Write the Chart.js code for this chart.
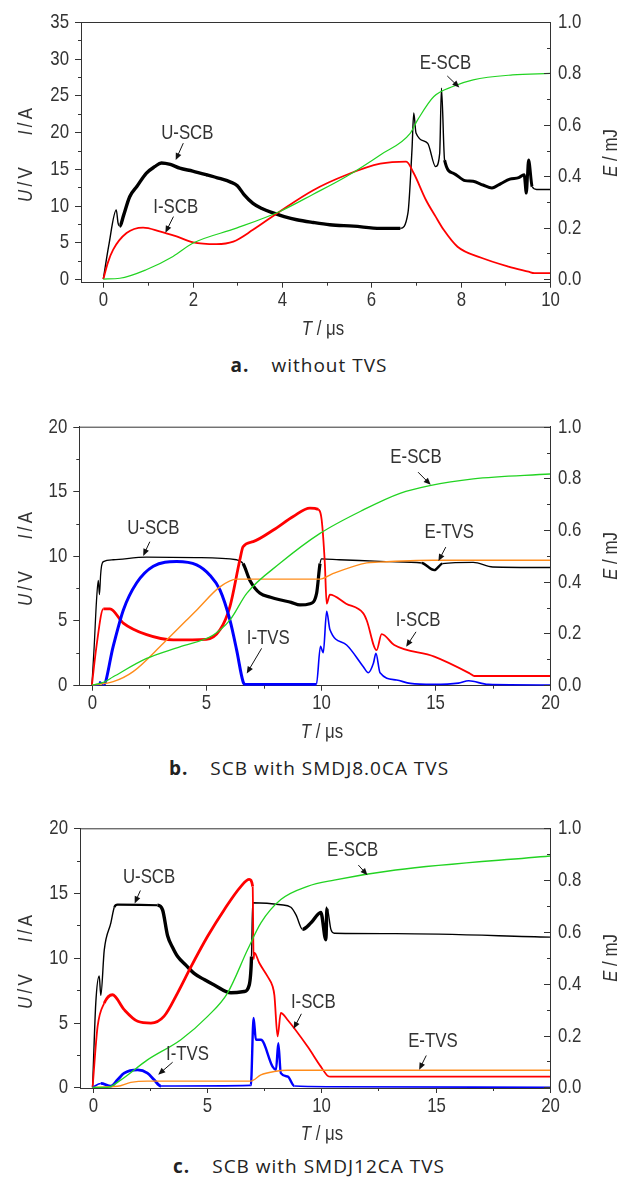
<!DOCTYPE html>
<html>
<head>
<meta charset="utf-8">
<script src="https://cdn.jsdelivr.net/npm/chart.js@4/dist/chart.umd.min.js"></script>
<style>
body{margin:0;background:#fff;width:618px;height:1180px;position:relative;overflow:hidden;color:#333;
  font-family:'Liberation Sans',Arial,sans-serif}
canvas{position:absolute;left:0}
.t{position:absolute;transform:translate(-50%,-50%) scaleX(0.8);white-space:pre;font-size:21px;line-height:1}
.r{transform:translate(-50%,-50%) rotate(-90deg) scaleX(0.8)}
.gap{display:inline-block;width:40px}
.cap{position:absolute;left:0;width:618px;text-align:center;font-family:'Open Sans',sans-serif;font-size:19px;letter-spacing:1px;color:#222;transform:translateY(-50%)}
.cap b{margin-right:22px}
</style>
</head>
<body>
<canvas id="ca" width="618" height="330" style="top:0"></canvas>
<canvas id="cb" width="618" height="330" style="top:400px"></canvas>
<canvas id="cc" width="618" height="330" style="top:800px"></canvas>

<div class="t r" style="left:24px;top:155px"><i>U</i>&thinsp;/&thinsp;V<span class="gap"></span><i>I</i>&thinsp;/&thinsp;A</div>
<div class="t r" style="left:609px;top:153px"><i>E</i> / mJ</div>
<div class="t" style="left:323px;top:327px"><i>T</i> / μs</div>
<div class="cap" style="top:365px"><b>a.</b>without TVS</div>

<div class="t r" style="left:24px;top:559px"><i>U</i>&thinsp;/&thinsp;V<span class="gap"></span><i>I</i>&thinsp;/&thinsp;A</div>
<div class="t r" style="left:609px;top:556px"><i>E</i> / mJ</div>
<div class="t" style="left:322px;top:730px"><i>T</i> / μs</div>
<div class="cap" style="top:768px"><b>b.</b>SCB with SMDJ8.0CA TVS</div>

<div class="t r" style="left:24px;top:962px"><i>U</i>&thinsp;/&thinsp;V<span class="gap"></span><i>I</i>&thinsp;/&thinsp;A</div>
<div class="t r" style="left:609px;top:958px"><i>E</i> / mJ</div>
<div class="t" style="left:322px;top:1132px"><i>T</i> / μs</div>
<div class="cap" style="top:1166px"><b>c.</b>SCB with SMDJ12CA TVS</div>

<script>
const FONT = "'Liberation Sans',Arial,sans-serif";

// --- (a) without TVS : [T µs, value]
const aU_SCB = [[0,0],[0.12,4.5],[0.29,9.4],[0.33,7.6],[0.37,7.2],[0.45,8.6],[0.59,11.2],[0.75,12.6],[0.96,14.4],[1.15,15.3],[1.3,15.8],[1.5,15.6],[1.71,15.1],[2.0,14.7],[2.31,14.2],[2.6,13.7],[2.85,13.2],[3.0,12.7],[3.15,11.5],[3.35,10.3],[3.55,9.6],[3.8,9.0],[4.05,8.5],[4.33,8.07],[4.7,7.7],[5.07,7.4],[5.6,7.2],[6.2,6.9],[6.65,6.9],[6.82,9.0],[6.91,17.6],[6.95,22.6],[7.0,19.9],[7.26,18.5],[7.44,15.3],[7.53,17.1],[7.57,26],[7.64,16.2],[7.84,14.4],[8.1,13.4],[8.28,13.3],[8.5,12.8],[8.7,12.4],[8.9,13.0],[9.1,13.6],[9.3,13.8],[9.42,14.2],[9.47,11.7],[9.52,16.2],[9.6,12.6],[9.7,12.2],[10,12.2]];
const aI_SCB = [[0,0],[0.1,2.2],[0.22,4.0],[0.52,6.26],[0.89,7.0],[1.26,6.5],[1.64,5.8],[2.01,5.0],[2.53,4.76],[2.91,5.1],[3.35,6.7],[3.95,9.2],[4.7,12.1],[5.45,14.2],[6.2,15.7],[6.78,16.0],[6.95,14.4],[7.22,10.8],[7.44,8.5],[7.62,6.7],[7.93,4.4],[8.46,2.9],[9.07,1.7],[9.52,1.0],[9.65,0.8],[10,0.8]];
const aE_SCB = [[0,0],[0.37,0.003],[0.96,0.036],[1.56,0.088],[2.01,0.14],[2.98,0.198],[3.95,0.263],[4.7,0.33],[5.45,0.40],[6.2,0.483],[6.87,0.567],[7.04,0.62],[7.4,0.71],[7.84,0.75],[8.28,0.775],[9.16,0.794],[10,0.80]];

// --- (b) SMDJ8.0CA
const bU_SCB = [[0,0],[0.1,3],[0.2,6.5],[0.28,8.1],[0.33,7.0],[0.38,8.5],[0.42,9.2],[0.5,9.56],[0.93,9.7],[2.39,9.9],[4.57,9.87],[6.32,9.7],[6.6,9.4],[6.9,8.1],[7.34,7.1],[7.8,6.8],[8.2,6.6],[8.7,6.4],[9.08,6.2],[9.52,6.3],[9.81,7.1],[9.96,9.4],[10.03,9.77],[10.8,9.7],[12.35,9.6],[13.0,9.55],[14.4,9.45],[14.95,8.9],[15.3,9.4],[16.65,9.5],[17.5,9.14],[20,9.1]];
const bI_SCB = [[0,0],[0.2,3.0],[0.5,5.9],[0.79,5.9],[1.37,4.8],[2.39,3.9],[3.55,3.5],[5.0,3.54],[5.6,4.3],[6.03,6.1],[6.46,9.7],[6.6,10.7],[7.04,11.1],[7.92,12.0],[8.79,13.05],[9.52,13.7],[9.88,13.6],[10.03,12.8],[10.17,9.4],[10.25,6.3],[10.39,7.0],[11.1,6.3],[11.85,5.55],[12.0,5.0],[12.43,2.7],[12.65,3.95],[13.2,3.1],[14.95,2.2],[16.5,0.9],[16.7,0.7],[20,0.7]];
const bI_TVS = [[0,0],[0.3,0],[0.35,0.26],[0.5,0],[0.93,3.0],[1.37,5.8],[1.95,7.9],[2.68,9.2],[3.7,9.56],[4.57,9.3],[5.15,8.5],[5.59,7.36],[6.03,5.0],[6.32,2.7],[6.6,0.26],[6.7,0.05],[9.8,0.05],[9.98,3.0],[10.1,2.5],[10.25,5.7],[10.39,4.3],[11.12,3.1],[11.85,1.42],[12.07,0.95],[12.29,1.68],[12.4,2.45],[12.58,0.95],[13.3,0.39],[13.9,0.13],[14.9,0.05],[16.0,0.15],[16.45,0.33],[17.3,0.05],[20,0]];
const bE_SCB = [[0,0],[0.5,0.01],[0.93,0.032],[2.39,0.103],[3.84,0.148],[5.3,0.194],[6.03,0.252],[6.76,0.355],[8.21,0.471],[9.96,0.587],[11.85,0.678],[13.45,0.742],[14.75,0.772],[16.65,0.798],[20,0.817]];
const bE_TVS = [[0,0],[0.93,0.013],[1.8,0.052],[3.11,0.161],[4.57,0.29],[5.59,0.38],[6.32,0.41],[9.96,0.41],[10.54,0.432],[12,0.473],[12.5,0.476],[14.9,0.483],[20,0.483]];

// --- (c) SMDJ12CA
const cU_SCB = [[0,0],[0.14,6.5],[0.29,8.6],[0.36,7.1],[0.51,10.6],[0.8,12.7],[0.95,13.9],[1.09,14.1],[2.84,14.06],[3.06,13.7],[3.28,11.7],[3.5,10.8],[3.72,10.1],[4.1,9.4],[4.44,8.8],[4.9,8.3],[5.32,7.9],[6.05,7.3],[6.63,7.4],[6.85,7.9],[6.95,10.1],[7.0,14.25],[8.23,14.1],[8.67,13.9],[8.9,13.3],[9.18,12.2],[9.55,12.7],[9.98,13.5],[10.2,11.4],[10.25,13.86],[10.42,12.2],[10.57,11.9],[13.25,11.87],[20,11.6]];
const cI_SCB = [[0,0],[0.22,4.7],[0.51,6.5],[0.87,7.15],[1.38,6.0],[1.97,5.1],[2.55,4.96],[3.13,5.5],[3.72,7.3],[4.3,9.3],[5.03,11.66],[5.75,13.7],[6.48,15.5],[6.85,16.05],[7.0,15.5],[7.04,9.9],[7.07,10.4],[7.29,9.6],[7.65,8.57],[7.87,7.8],[7.95,7.1],[8.09,3.93],[8.23,5.74],[8.53,5.2],[9.4,3.15],[9.98,1.6],[10.28,0.89],[10.4,0.83],[20,0.83]];
const cI_TVS = [[0,0],[0.36,0.3],[0.8,0.1],[1.09,0.58],[1.38,1.1],[1.97,1.35],[2.4,1.1],[2.69,0.58],[2.99,0.1],[6.92,0.15],[7.04,5.35],[7.14,3.67],[7.36,3.67],[7.87,1.6],[8.02,1.36],[8.12,3.4],[8.23,1.1],[8.53,0.84],[8.82,0.1],[10.28,0.05],[20,0]];
const cE_SCB = [[0,0],[0.65,0],[1.24,0.029],[2.4,0.106],[3.86,0.184],[5.03,0.274],[5.9,0.364],[6.78,0.532],[7.36,0.635],[8.23,0.725],[9.4,0.776],[10.56,0.8],[13.25,0.839],[20,0.893]];
const cE_TVS = [[0,0],[1.09,0.004],[1.67,0.019],[2.4,0.024],[6.92,0.024],[7.36,0.048],[7.94,0.061],[8.53,0.066],[20,0.066]];

// tick values
const xTicksA = [0,2,4,6,8,10];
const xMinorA = [1,3,5,7,9];
const yTicksA = [0,5,10,15,20,25,30,35];
const xTicksBC = [0,5,10,15,20];
const yTicksBC = [0,5,10,15,20];
const eTicks = [0,0.2,0.4,0.6,0.8,1.0];
const eMinor = [0.1,0.3,0.5,0.7,0.9];
const halfSteps = (arr, step) => arr.slice(0,-1).map(v => v + step/2);

const C = {U:'#000', I:'#ff0000', IT:'#0000ff', E:'#22d322', ET:'#ff8c1a'};

// 노이즈 구간: [from, to, 굵기]
const bands = list => ({
  borderWidth: c => { const m = list.find(([a,b]) => c.p0.parsed.x >= a && c.p1.parsed.x <= b); return m ? m[2] : undefined; }
});

function ds(pts, color, width, axis, extra){
  return Object.assign({
    data: pts.map(([x,y]) => ({x,y})),
    borderColor: color, borderWidth: width, yAxisID: axis,
    pointRadius: 0, cubicInterpolationMode:'monotone', fill: false
  }, extra || {});
}

// 좁은 글꼴 흉내 (가로 0.8배)
function narrow(ctx, text, x, y, align, size){
  ctx.save();
  ctx.translate(x, y); ctx.scale(0.8, 1);
  ctx.font = size + 'px ' + FONT;
  ctx.textAlign = align; ctx.textBaseline = 'middle';
  ctx.fillText(text, 0, 0);
  ctx.restore();
}

// 주석(화살표+텍스트)
const notes = {
  id:'notes',
  afterDatasetsDraw(chart, args, opts){
    const {ctx} = chart, x = chart.scales.x;
    (opts.items || []).forEach(n => {
      const y = chart.scales[n.axis || 'y'];
      const px = v => x.getPixelForValue(v), py = v => y.getPixelForValue(v);
      ctx.save();
      ctx.fillStyle = '#333';
      narrow(ctx, n.text, px(n.at[0]), py(n.at[1]), 'center', 21);
      const x0 = px(n.from[0]), y0 = py(n.from[1]), x1 = px(n.to[0]), y1 = py(n.to[1]);
      const ang = Math.atan2(y1-y0, x1-x0), cs = Math.cos(ang), sn = Math.sin(ang);
      ctx.strokeStyle = '#111'; ctx.fillStyle = '#111'; ctx.lineWidth = 1;
      ctx.beginPath(); ctx.moveTo(x0,y0); ctx.lineTo(x1 - 5*cs, y1 - 5*sn); ctx.stroke();
      ctx.beginPath();
      ctx.moveTo(x1,y1);
      ctx.lineTo(x1 - 7*cs + 3*sn, y1 - 7*sn - 3*cs);
      ctx.lineTo(x1 - 7*cs - 3*sn, y1 - 7*sn + 3*cs);
      ctx.closePath(); ctx.fill();
      ctx.restore();
    });
  }
};

// 눈금(주/보조), 눈금 글자, 위쪽 테두리
const axisMarks = {
  id:'axisMarks',
  afterDraw(chart, args, o){
    const {ctx, chartArea:a, scales:s} = chart;
    ctx.save();
    ctx.strokeStyle = '#333'; ctx.fillStyle = '#333'; ctx.lineWidth = 1;
    const seg = (x0,y0,x1,y1) => { ctx.beginPath(); ctx.moveTo(x0,y0); ctx.lineTo(x1,y1); ctx.stroke(); };
    const P = (sc, v) => Math.round(sc.getPixelForValue(v)) + 0.5;
    seg(a.left, a.top + 0.5, a.right, a.top + 0.5);
    o.x.major.forEach(v => { const p = P(s.x, v); seg(p, a.bottom, p, a.bottom + 5); narrow(ctx, String(v), p, a.bottom + 18, 'center', 21); });
    o.x.minor.forEach(v => { const p = P(s.x, v); seg(p, a.bottom, p, a.bottom + 3); });
    o.y.major.forEach(v => { const p = P(s.y, v); seg(a.left - 6, p, a.left, p); narrow(ctx, String(v), a.left - 12, p, 'right', 21); });
    o.y.minor.forEach(v => { const p = P(s.y, v); seg(a.left - 3, p, a.left, p); });
    o.e.major.forEach(v => { const p = P(s.y1, v); seg(a.right - 6, p, a.right, p); narrow(ctx, v.toFixed(1), a.right + 8, p, 'left', 21); });
    o.e.minor.forEach(v => { const p = P(s.y1, v); seg(a.right - 3, p, a.right, p); });
    ctx.restore();
  }
};

function makeChart(id, cfg){
  const axis = (extra) => Object.assign({ grid:{display:false}, border:{color:'#333', width:1}, ticks:{display:false} }, extra);
  new Chart(document.getElementById(id), {
    type:'line',
    data:{ datasets: cfg.datasets },
    plugins:[notes, axisMarks],
    options:{
      responsive:false, animation:false, events:[],
      layout:{ padding:{ top: cfg.top, right:0, bottom:0, left:0 } },
      plugins:{
        legend:{display:false}, tooltip:{enabled:false},
        notes:{ items: cfg.notes },
        axisMarks:{ x:{major:cfg.xt, minor:cfg.xm}, y:{major:cfg.yt, minor:halfSteps(cfg.yt, cfg.yt[1]-cfg.yt[0])}, e:{major:eTicks, minor:eMinor} }
      },
      scales:{
        x: axis({ type:'linear', min:cfg.xmin, max:cfg.xmax, afterFit: s => { s.height = cfg.xh; } }),
        y: axis({ position:'left', min:cfg.ymin, max:cfg.ymax, afterFit: s => { s.width = cfg.left; } }),
        y1: axis({ position:'right', min:cfg.ymin / cfg.ymax, max:1, afterFit: s => { s.width = 68; } })
      }
    }
  });
}

makeChart('ca', {
  top:22, xh:330-282.7, left:81, xmin:-0.5, xmax:10, ymin:-0.5, ymax:35,
  xt:xTicksA, xm:xMinorA, yt:yTicksA,
  datasets:[
    ds(aE_SCB, C.E, 1.2, 'y1'),
    ds(aI_SCB, C.I, 1.8, 'y'),
    ds(aU_SCB, C.U, 1.4, 'y', {segment: bands([[0.35,6.7,3.4],[7.6,9.6,3]])})
  ],
  notes:[
    {text:'U-SCB', at:[1.88,19.9], from:[1.79,18.5], to:[1.62,16.2]},
    {text:'I-SCB', at:[1.62,9.8], from:[1.57,8.5], to:[1.39,6.3]},
    {text:'E-SCB', at:[7.66,0.84], from:[7.7,0.79], to:[7.97,0.745], axis:'y1'}
  ]
});

makeChart('cb', {
  top:26.7, xh:330-285.7, left:79.3, xmin:-0.55, xmax:20, ymin:-0.05, ymax:20,
  xt:xTicksBC, xm:halfSteps(xTicksBC,5), yt:yTicksBC,
  datasets:[
    ds(bE_SCB, C.E, 1.3, 'y1'),
    ds(bE_TVS, C.ET, 1.4, 'y1'),
    ds(bI_TVS, C.IT, 1.6, 'y', {segment: bands([[0.5,9.8,3]])}),
    ds(bI_SCB, C.I, 1.8, 'y', {segment: bands([[0.3,10.0,2.8]])}),
    ds(bU_SCB, C.U, 1.3, 'y', {segment: bands([[6.6,9.96,3.2],[14.4,16.0,2.4]])})
  ],
  notes:[
    {text:'U-SCB', at:[2.68,12.15], from:[2.53,11.1], to:[2.24,10.0]},
    {text:'I-TVS', at:[7.7,3.6], from:[7.41,2.84], to:[6.76,0.9]},
    {text:'E-SCB', at:[14.15,0.88], from:[14.24,0.824], to:[14.79,0.775], axis:'y1'},
    {text:'E-TVS', at:[15.6,0.592], from:[15.45,0.534], to:[15.13,0.48], axis:'y1'},
    {text:'I-SCB', at:[14.24,5.0], from:[14.15,4.12], to:[13.72,2.96]}
  ]
});

makeChart('cc', {
  top:28.3, xh:330-288, left:80, xmin:-0.55, xmax:20, ymin:-0.05, ymax:20,
  xt:xTicksBC, xm:halfSteps(xTicksBC,5), yt:yTicksBC,
  datasets:[
    ds(cE_SCB, C.E, 1.3, 'y1'),
    ds(cE_TVS, C.ET, 1.4, 'y1'),
    ds(cI_TVS, C.IT, 1.6, 'y', {segment: bands([[0.3,3.0,2.8],[6.9,8.9,2.4]])}),
    ds(cI_SCB, C.I, 1.8, 'y', {segment: bands([[0.3,7.0,2.8]])}),
    ds(cU_SCB, C.U, 1.4, 'y', {segment: bands([[0.95,2.84,2.2],[2.84,6.95,3.4],[9.0,10.3,3.4]])})
  ],
  notes:[
    {text:'U-SCB', at:[2.47,16.2], from:[2.09,15.2], to:[1.84,14.2]},
    {text:'E-SCB', at:[11.37,0.916], from:[11.62,0.858], to:[12.02,0.819], axis:'y1'},
    {text:'I-SCB', at:[9.65,6.58], from:[9.13,5.68], to:[8.79,4.52]},
    {text:'E-TVS', at:[14.88,0.178], from:[14.59,0.123], to:[14.28,0.068], axis:'y1'},
    {text:'I-TVS', at:[4.15,2.58], from:[3.5,1.94], to:[2.87,0.98]}
  ]
});
</script>
</body>
</html>
